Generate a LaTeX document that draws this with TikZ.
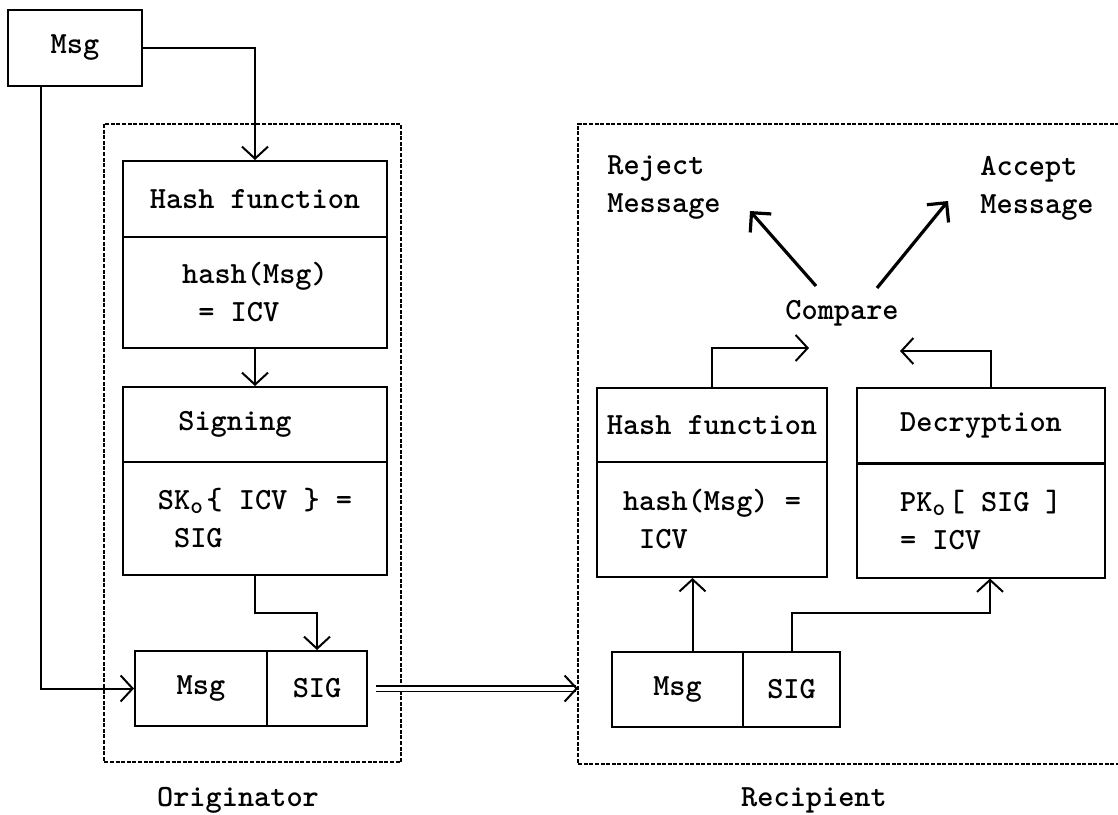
\documentclass[tikz,border=0pt]{standalone}
\usepackage{fontspec}
\usetikzlibrary{arrows.meta,calc}
\newcommand{\subo}{\makebox[0.525em][l]{\raisebox{-0.25ex}{\fontsize{12}{12}\selectfont o}}}
\begin{document}
\begin{tikzpicture}[x=0.5pt,y=-0.5pt,
  every node/.style={font=\fontsize{15.4}{19}\selectfont\ttfamily\bfseries},
  bx/.style={draw, line width=1pt, inner sep=0pt, align=left},
  arr/.style={line width=1pt, -{Straight Barb[length=6pt,width=13pt,line width=1pt]}},
  ln/.style={line width=1pt},
  region/.style={line width=0.6pt, dash pattern=on 2pt off 0.8pt},
  big/.style={line width=1.6pt, -{Straight Barb[length=7pt,width=14pt,line width=1.6pt]}}]
\useasboundingbox (0,0) rectangle (1118,814);

% regions
\draw[region] (104,124) rectangle (401,762);
\draw[region] (1125,124) -- (578,124) -- (578,764) -- (1125,764);

% originator
\node[bx, minimum width=67pt, minimum height=38pt] (msg) at (75,48) {Msg};
\node[bx, minimum width=132pt, minimum height=38pt] (hh) at (255,199) {Hash function};
\node[bx, minimum width=132pt, minimum height=55.5pt] (hb) at (255,292.5) {hash(Msg)\\~= ICV};
\node[bx, minimum width=132pt, minimum height=37.5pt] (sh) at (255,424.5) {Signing\hspace*{20pt}};
\node[bx, minimum width=132pt, minimum height=56.5pt] (sb) at (255,518.5) {SK\subo\{ ICV \} =\\~SIG};
\node[bx, minimum width=66pt, minimum height=37.5pt] (omsg) at (201,688.5) {Msg};
\node[bx, minimum width=50pt, minimum height=37.5pt] (osig) at (317,688.5) {SIG};

% recipient
\node[bx, minimum width=115pt, minimum height=37pt] (rhh) at (712,425) {Hash function};
\node[bx, minimum width=115pt, minimum height=57.5pt] (rhb) at (712,519.5) {hash(Msg) =\\~ICV};
\node[bx, minimum width=124pt, minimum height=37.5pt] (dh) at (981,425.5) {Decryption};
\node[bx, minimum width=124pt, minimum height=57pt] (db) at (981,520.5) {PK\subo[ SIG ]\\= ICV};
\node[bx, minimum width=65.5pt, minimum height=37.5pt] (rmsg) at (677.5,689.5) {Msg};
\node[bx, minimum width=48.5pt, minimum height=37.5pt] (rsig) at (791.5,689.5) {SIG};

\node (cmp) at (842,313) {Compare};
\node[align=left, anchor=west, inner sep=0pt] (rej) at (607,188) {Reject\\Message};
\node[align=left, anchor=west, inner sep=0pt] (acc) at (980,188) {Accept\\Message};
\node (orig) at (238,800) {Originator};
\node (recp) at (814,800) {Recipient};

\coordinate (rin) at (578,688.5);
\coordinate (cl) at (809,348);
\coordinate (cr) at (900,351);
\coordinate (rejt) at (816,286);
\coordinate (rejh) at (750,211);
\coordinate (acct) at (877,288);
\coordinate (acch) at (948,201);

% connectors
\draw[arr] (msg.east) -| (hh.north);
\draw[arr] ($(msg.south west)!0.25!(msg.south east)$) |- (omsg.west);
\draw[arr] (hb.south) -- (sh.north);
\draw[arr] (sb.south) -- ++(0,37) -| (osig.north);
\draw[line width=0.7pt, double, double distance=2pt, shorten <=4pt,
  -{Straight Barb[length=6pt,width=13pt,line width=1pt]}] (osig.east) -- (rin);

\draw[arr] ([xshift=7.5pt]rmsg.north) -- ([xshift=7.5pt]rmsg.north |- rhb.south);
\draw[arr] (rsig.north) -- ++(0,-38) -| ([xshift=4.5pt]db.south);
\draw[arr] (rhh.north) |- (cl);
\draw[arr] ([xshift=5pt]dh.north) |- (cr);
\draw[big] (rejt) -- (rejh);
\draw[big] (acct) -- (acch);
\end{tikzpicture}
\end{document}
